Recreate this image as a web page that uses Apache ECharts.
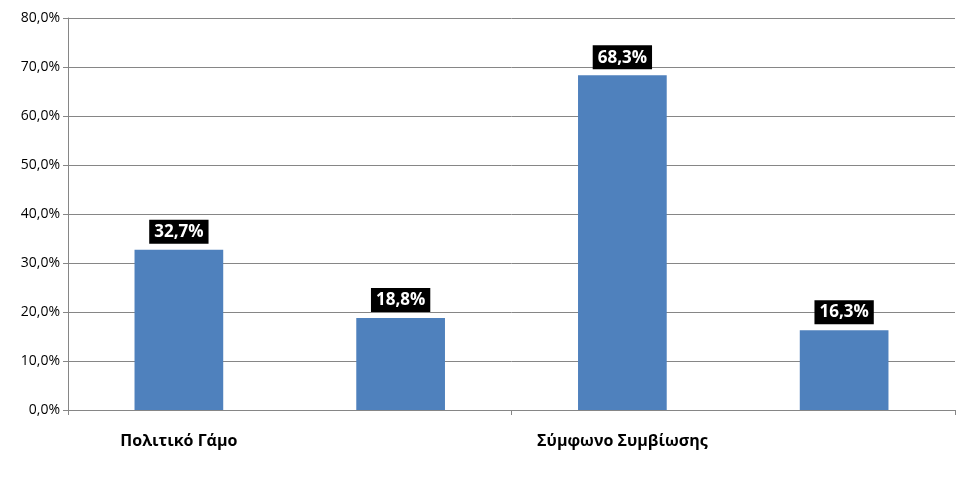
<!DOCTYPE html>
<html><head><meta charset="utf-8">
<script src="https://cdn.jsdelivr.net/npm/echarts@6/dist/echarts.min.js"></script>
<style>html,body{margin:0;padding:0;background:#fff}#c{width:960px;height:481px}</style>
</head><body><div id="c"></div>
<script>
const categories = ['Πολιτικό Γάμο', 'Τεκνοθεσία', 'Σύμφωνο Συμβίωσης', 'Τίποτα από τα\nπροηγούμενα'];
const values = [32.7, 18.8, 68.3, 16.3];
const fmt = v => v.toFixed(1).replace('.', ',') + '%';
const chart = echarts.init(document.getElementById('c'));
chart.setOption({
  animation: false,
  grid: { left: 68, right: 5, top: 18, bottom: 71 },
  xAxis: {
    type: 'category', data: categories,
    axisLine: { lineStyle: { color: '#868686' } },
    axisTick: { show: true, length: 5, lineStyle: { color: '#868686' } },
    axisLabel: { color: '#000', fontFamily: '"Open Sans", sans-serif', fontWeight: 'bold', fontSize: 16, lineHeight: 26, margin: 18 }
  },
  yAxis: {
    type: 'value', min: 0, max: 80, interval: 10,
    axisLine: { show: true, lineStyle: { color: '#868686' } },
    axisTick: { show: true, length: 5, lineStyle: { color: '#868686' } },
    splitLine: { lineStyle: { color: '#868686' } },
    axisLabel: { color: '#000', fontFamily: '"Open Sans", sans-serif', fontSize: 14, formatter: fmt, margin: 8 }
  },
  series: [{
    type: 'bar', data: values, barWidth: '40%',
    itemStyle: { color: '#4F81BD' },
    label: {
      show: true, position: 'top', distance: 6,
      formatter: p => fmt(p.value),
      backgroundColor: '#000', color: '#fff', fontWeight: 'bold', fontSize: 17,
      fontFamily: '"Open Sans", sans-serif', padding: [4, 5, 3, 5]
    }
  }]
});
</script></body></html>
